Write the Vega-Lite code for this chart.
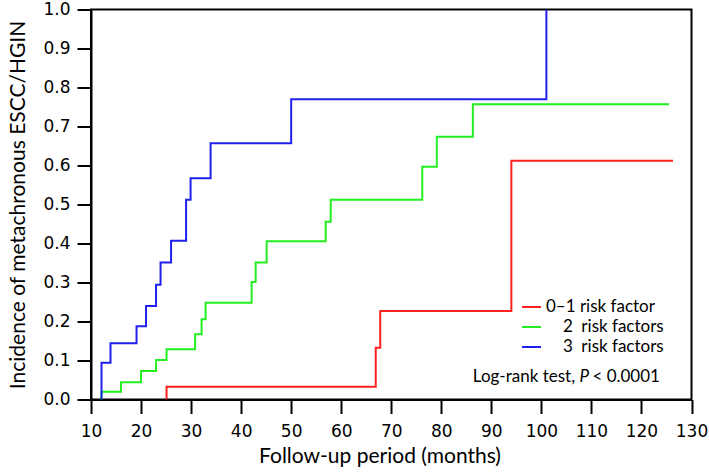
{
  "$schema": "https://vega.github.io/schema/vega-lite/v6.json",
  "autosize": "none",
  "width": 600.5,
  "height": 390,
  "padding": {"left": 91, "top": 9.5, "right": 17.5, "bottom": 72.5},
  "background": "white",
  "config": {
    "view": {"stroke": "black", "strokeWidth": 2},
    "axis": {
      "domainColor": "black", "domainWidth": 2,
      "tickColor": "black", "tickWidth": 2, "tickSize": 14,
      "grid": false, "labelOverlap": false,
      "labelFont": "DejaVu Sans", "labelFontSize": 17, "labelColor": "black",
      "titleFont": "Lato", "titleFontSize": 21, "titleFontWeight": "normal", "titleColor": "black"
    }
  },
  "datasets": {
    "curves": [
      {"series": "0–1 risk factor", "month": 25.1, "value": 0},
      {"series": "0–1 risk factor", "month": 25.1, "value": 0.033},
      {"series": "0–1 risk factor", "month": 66.9, "value": 0.133},
      {"series": "0–1 risk factor", "month": 67.8, "value": 0.227},
      {"series": "0–1 risk factor", "month": 94.0, "value": 0.612},
      {"series": "0–1 risk factor", "month": 126.3, "value": 0.612},
      {"series": "2 risk factors", "month": 12.1, "value": 0},
      {"series": "2 risk factors", "month": 12.1, "value": 0.020},
      {"series": "2 risk factors", "month": 16.0, "value": 0.044},
      {"series": "2 risk factors", "month": 20.0, "value": 0.073},
      {"series": "2 risk factors", "month": 23.0, "value": 0.101},
      {"series": "2 risk factors", "month": 25.1, "value": 0.129},
      {"series": "2 risk factors", "month": 30.8, "value": 0.167},
      {"series": "2 risk factors", "month": 32.1, "value": 0.206},
      {"series": "2 risk factors", "month": 32.9, "value": 0.248},
      {"series": "2 risk factors", "month": 42.1, "value": 0.301},
      {"series": "2 risk factors", "month": 42.9, "value": 0.351},
      {"series": "2 risk factors", "month": 45.1, "value": 0.406},
      {"series": "2 risk factors", "month": 56.9, "value": 0.456},
      {"series": "2 risk factors", "month": 57.9, "value": 0.512},
      {"series": "2 risk factors", "month": 76.2, "value": 0.597},
      {"series": "2 risk factors", "month": 79.1, "value": 0.674},
      {"series": "2 risk factors", "month": 86.3, "value": 0.757},
      {"series": "2 risk factors", "month": 125.5, "value": 0.757},
      {"series": "3 risk factors", "month": 12.1, "value": 0},
      {"series": "3 risk factors", "month": 12.1, "value": 0.094},
      {"series": "3 risk factors", "month": 13.9, "value": 0.144},
      {"series": "3 risk factors", "month": 19.1, "value": 0.188},
      {"series": "3 risk factors", "month": 21.0, "value": 0.240},
      {"series": "3 risk factors", "month": 23.0, "value": 0.294},
      {"series": "3 risk factors", "month": 23.9, "value": 0.351},
      {"series": "3 risk factors", "month": 26.0, "value": 0.407},
      {"series": "3 risk factors", "month": 29.0, "value": 0.512},
      {"series": "3 risk factors", "month": 29.9, "value": 0.567},
      {"series": "3 risk factors", "month": 33.9, "value": 0.657},
      {"series": "3 risk factors", "month": 50.0, "value": 0.770},
      {"series": "3 risk factors", "month": 101.0, "value": 1.0}
    ],
    "note": [
      {"part": "Log-rank test,", "month": 86.3, "value": 0.058, "style": "normal"},
      {"part": "P", "month": 107.6, "value": 0.058, "style": "italic"},
      {"part": "< 0.0001", "month": 110.2, "value": 0.058, "style": "normal"}
    ]
  },
  "encoding": {
    "x": {
      "field": "month", "type": "quantitative",
      "scale": {"domain": [10, 130], "nice": false, "zero": false},
      "axis": {"values": [10,20,30,40,50,60,70,80,90,100,110,120,130], "title": "Follow-up period (months)", "labelPadding": 10, "titlePadding": 6, "titleX": 288.5, "labelFlush": false}
    },
    "y": {
      "field": "value", "type": "quantitative",
      "scale": {"domain": [0, 1], "nice": false},
      "axis": {"values": [0,0.1,0.2,0.3,0.4,0.5,0.6,0.7,0.8,0.9,1.0], "format": ".1f", "title": "Incidence of metachronous ESCC/HGIN", "labelPadding": 7, "titlePadding": 14, "labelFlush": false}
    }
  },
  "layer": [
    {
      "data": {"name": "curves"},
      "mark": {"type": "line", "interpolate": "step-after", "strokeWidth": 2, "clip": true},
      "encoding": {
        "color": {
          "field": "series", "type": "nominal",
          "scale": {"domain": ["0–1 risk factor", "2 risk factors", "3 risk factors"], "range": ["#ff2020", "#22ee22", "#2020ee"]},
          "legend": {
            "orient": "none", "legendX": 430, "legendY": 287, "title": null,
            "symbolType": "stroke", "symbolStrokeWidth": 2, "symbolSize": 361,
            "labelFont": "Lato", "labelFontSize": 17, "labelColor": "black", "labelOffset": 4,
            "rowPadding": 1,
            "labelExpr": "datum.label == '0–1 risk factor' ? datum.label : '\u2060\u2002\u2002' + replace(datum.label, ' ', '\u2002')"
          }
        }
      }
    },
    {
      "data": {"name": "note"},
      "transform": [{"filter": "datum.style == 'normal'"}],
      "mark": {"type": "text", "align": "left", "baseline": "middle", "font": "Lato", "fontSize": 17, "color": "black"},
      "encoding": {"text": {"field": "part"}}
    },
    {
      "data": {"name": "note"},
      "transform": [{"filter": "datum.style == 'italic'"}],
      "mark": {"type": "text", "align": "left", "baseline": "middle", "font": "Lato", "fontSize": 17, "fontStyle": "italic", "color": "black"},
      "encoding": {"text": {"field": "part"}}
    }
  ]
}
